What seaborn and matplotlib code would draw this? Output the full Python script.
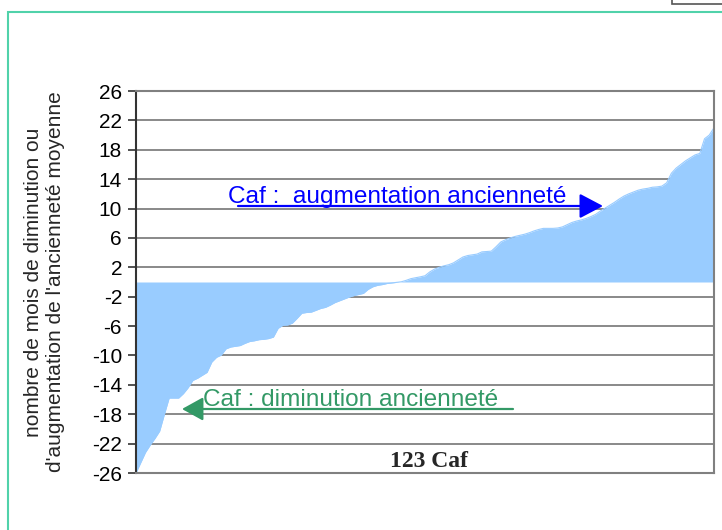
import numpy as np
import pandas as pd
import seaborn as sns
import matplotlib.pyplot as plt
from matplotlib.patches import Rectangle

# ecart d'anciennete moyenne (mois) par Caf, trie
ecarts = [-26.0, -24.6, -23.2, -22.2, -21.3, -20.3, -18.0, -15.8, -15.8, -15.8,
          -15.2, -14.4, -13.4, -13.1, -12.7, -12.3, -10.9, -10.25, -9.95, -9.1,
          -8.85, -8.75, -8.65, -8.35, -8.1, -8.0, -7.85, -7.8, -7.7, -7.5,
          -6.3, -5.9, -5.85, -5.6, -4.95, -4.25, -4.15, -4.1, -3.85, -3.6,
          -3.45, -3.15, -2.8, -2.55, -2.3, -2.05, -1.85, -1.7, -1.55, -1.0,
          -0.65, -0.45, -0.35, -0.2, -0.13, -0.05, 0.03, 0.22, 0.45, 0.58,
          0.7, 0.85, 1.37, 1.75, 2.0, 2.2, 2.35, 2.6, 3.0, 3.4,
          3.6, 3.7, 3.8, 4.1, 4.15, 4.2, 4.8, 5.45, 5.75, 6.0,
          6.2, 6.35, 6.5, 6.7, 6.95, 7.15, 7.3, 7.3, 7.3, 7.35,
          7.5, 7.8, 8.1, 8.3, 8.45, 8.65, 8.9, 9.2, 9.65, 10.05,
          10.45, 10.85, 11.3, 11.7, 12.0, 12.25, 12.5, 12.65, 12.75, 12.9,
          12.95, 13.05, 13.5, 14.8, 15.5, 16.0, 16.5, 16.9, 17.3, 17.5,
          19.5, 20.0, 21.0]
yticks = [26, 22, 18, 14, 10, 6, 2, -2, -6, -10, -14, -18, -22, -26]

label_y = "nombre de mois de diminution ou\nd'augmentation de l'ancienneté moyenne"
label_aug = "Caf :  augmentation ancienneté"
label_dim = "Caf : diminution ancienneté"
label_x = "123 Caf"

df = pd.DataFrame({'caf': range(len(ecarts)), 'ecart': ecarts})

sns.set_style("white")
plt.rcParams['font.family'] = ['Liberation Sans', 'DejaVu Sans']
plt.rcParams['axes.unicode_minus'] = False

fig = plt.figure(figsize=(7.22, 5.30), dpi=100)
ax = fig.add_axes([136/722, 1-473/530, (714-136)/722, (473-91)/530])

sns.lineplot(data=df, x='caf', y='ecart', color='#99ccff', lw=0.8, ax=ax)
ax.fill_between(df['caf'], df['ecart'], 0, color='#99ccff', lw=0)

ax.set_xlim(0, len(ecarts)-1)
ax.set_ylim(-26, 26)
ax.set_yticks(yticks)
ax.set_yticklabels([str(t) for t in yticks])
ax.set_xticks([])
ax.set_xlabel('')
ax.yaxis.grid(True, color='#808080', lw=1.3)
ax.set_axisbelow(True)
for s in ['top', 'right', 'bottom']:
    ax.spines[s].set_color('#808080')
    ax.spines[s].set_linewidth(1.5)
ax.spines['left'].set_color('#333333')
ax.spines['left'].set_linewidth(1.5)
ax.tick_params(axis='y', left=True, length=6, width=1.2, color='#333333',
               labelsize=15, pad=4, labelcolor='black')

ax.set_ylabel(label_y, fontsize=15, linespacing=1.2, ha='center', va='center')
ax.yaxis.set_label_coords((45-136)/578, 0.5)

# fleches et textes
ax.annotate('', xy=(603, 324), xytext=(238, 324), xycoords='figure pixels',
            textcoords='figure pixels',
            arrowprops=dict(arrowstyle='-|>,head_length=0.72,head_width=0.38',
                            color='#0000ff', lw=1.6, mutation_scale=20,
                            shrinkA=0, shrinkB=0))
fig.text(228/722, 327/530, label_aug, color='#0000ff', fontsize=17.6,
         va='baseline', ha='left')

ax.annotate('', xy=(182, 121), xytext=(513, 121), xycoords='figure pixels',
            textcoords='figure pixels',
            arrowprops=dict(arrowstyle='-|>,head_length=0.65,head_width=0.36',
                            color='#339966', lw=1.6, mutation_scale=20,
                            shrinkA=0, shrinkB=0))
fig.text(203/722, 124/530, label_dim, color='#339966', fontsize=17.6,
         va='baseline', ha='left')

ax.text(429/722, 63/530, label_x, transform=fig.transFigure, ha='center',
        va='baseline', fontsize=17, fontweight='bold',
        family=['Liberation Serif', 'DejaVu Serif'])

# cadre
fig.add_artist(Rectangle((8/722, -0.1), 1.2, 1.1 - 12/530, transform=fig.transFigure,
                         fill=False, ec='#50d2aa', lw=1.5, clip_on=False))
fig.add_artist(Rectangle((672/722, 1-4/530), 52/722, 6/530, transform=fig.transFigure,
                         fc='white', ec='#555555', lw=1.2, clip_on=False))

fig.savefig('out.png', dpi=100)
